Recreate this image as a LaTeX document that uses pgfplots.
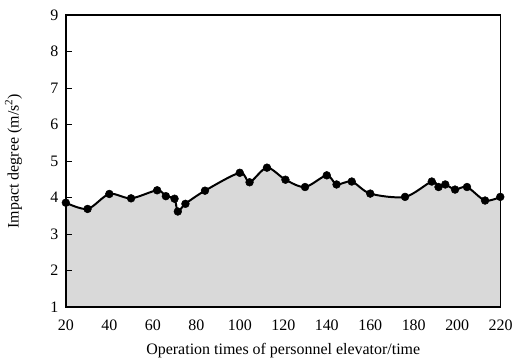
\documentclass[border=0pt]{standalone}
\usepackage{pgfplots}
\pgfplotsset{compat=1.18}
\usepgfplotslibrary{fillbetween}
\usepackage{fontspec}
\setmainfont{Liberation Serif}
\begin{document}
\begin{tikzpicture}
\begin{axis}[
  at={(0,0)}, anchor=south west,
  scale only axis,
  width=436pt, height=293pt,
  xmin=20, xmax=220, ymin=1, ymax=9,
  xtick={20,40,...,220},
  ytick={1,2,...,9},
  ytick pos=left,
  tick align=inside,
  major tick length=6pt,
  x tick style={draw=none},
  axis line style={line width=1.5pt},
  every tick/.style={black, line width=1pt},
  tick label style={font=\fontsize{16}{18}\selectfont},
  label style={font=\fontsize{16}{18}\selectfont},
  /pgf/number format/assume math mode=true,
  xticklabel style={yshift=-9pt},
  yticklabel style={xshift=-4pt},
  xlabel={Operation times of personnel elevator/time},
  ylabel={Impact degree (m/s\textsuperscript{2})},
  xlabel style={at={(axis description cs:0.5,-0.150)}, anchor=center},
  ylabel style={at={(axis description cs:-0.12,0.5)}, anchor=center},
  axis on top,
  clip=false,
]
\addplot[name path=A, draw=none, smooth, forget plot] coordinates {
(20,3.86) (30,3.69) (40,4.10) (50,3.98) (62,4.20) (66,4.04) (70,3.97) (71.5,3.62)
(75,3.83) (84,4.19) (100,4.68) (104.5,4.42) (112.5,4.82) (121,4.49) (130,4.29)
(140,4.61) (144.5,4.36) (151.5,4.44) (160,4.11) (176,4.02) (188.3,4.44) (191.4,4.29)
(194.5,4.36) (199,4.22) (204.5,4.29) (212.8,3.92) (219.8,4.02)
};
\addplot[name path=B, draw=none, forget plot] coordinates {(20,1) (220,1)};
\addplot[fill=black!15, draw=none, forget plot] fill between[of=A and B];
\addplot[black, line width=2pt, smooth, mark=*, mark size=3.9pt,
  mark options={fill=black, line width=0.5pt}] coordinates {
(20,3.86) (30,3.69) (40,4.10) (50,3.98) (62,4.20) (66,4.04) (70,3.97) (71.5,3.62)
(75,3.83) (84,4.19) (100,4.68) (104.5,4.42) (112.5,4.82) (121,4.49) (130,4.29)
(140,4.61) (144.5,4.36) (151.5,4.44) (160,4.11) (176,4.02) (188.3,4.44) (191.4,4.29)
(194.5,4.36) (199,4.22) (204.5,4.29) (212.8,3.92) (219.8,4.02)
};
\end{axis}
\path (-66pt,-52pt) rectangle (450pt,308pt);
\end{tikzpicture}
\end{document}
